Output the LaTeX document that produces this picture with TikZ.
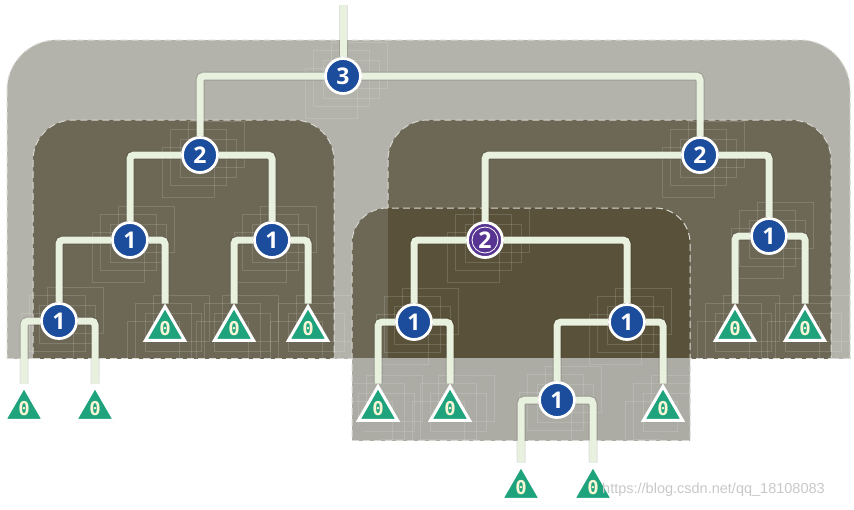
\documentclass[tikz,border=0pt]{standalone}
\usepackage{fontspec}
\setmainfont{Open Sans}
\newfontfamily\zerofont{DejaVu Sans Mono}
\newfontfamily\urlfont{Liberation Sans}
\usetikzlibrary{shapes.geometric,shadows}
\definecolor{outerc}{RGB}{179,179,171}
\definecolor{darkc}{RGB}{109,104,86}
\definecolor{overc}{RGB}{89,81,57}
\definecolor{midlow}{RGB}{172,172,165}
\definecolor{dashc}{RGB}{216,216,210}
\definecolor{wirec}{RGB}{232,240,222}
\definecolor{nblue}{RGB}{28,76,156}
\definecolor{npurple}{RGB}{88,52,146}
\definecolor{tgreen}{RGB}{30,163,125}
\definecolor{zeroc}{RGB}{252,246,214}
\definecolor{urlc}{RGB}{200,200,200}
\pgfdeclarelayer{regions}
\pgfdeclarelayer{wires}
\pgfsetlayers{regions,wires,main}
\newcommand\tracesat[2]{%
  \begin{scope}[shift={(#1,#2)}]
    \draw[trace] (-30,-26) rectangle (26,30);
    \draw[trace] (-20,-16) rectangle (36,22);
    \draw[trace] (-38,-8) rectangle (14,42);
    \draw[trace] (-12,-34) rectangle (44,12);
  \end{scope}}
\begin{document}
\begin{tikzpicture}[x=1pt,y=-1pt,
  wire/.style={draw=wirec, line width=7pt, rounded corners=4pt},
  wshadow/.style={draw=black, opacity=0.12, line width=9pt, rounded corners=4pt},
  num/.style={circle, fill=nblue, draw=white, line width=2.8pt, minimum size=35pt,
    inner sep=0pt, text=white, font=\bfseries\fontsize{23}{23}\selectfont,
    drop shadow={opacity=0.35, shadow xshift=0.6pt, shadow yshift=-1.4pt}},
  pnum/.style={num, fill=npurple},
  leaf/.style={regular polygon, regular polygon sides=3, minimum size=45pt,
    inner sep=0pt, fill=tgreen, draw=white, line width=3pt, text=zeroc,
    font=\zerofont\bfseries\fontsize{19}{19}\selectfont,
    drop shadow={opacity=0.4, shadow xshift=0.6pt, shadow yshift=-1.8pt}},
  dashline/.style={draw=dashc, line width=1pt, dash pattern=on 7pt off 4pt},
  trace/.style={draw=white, opacity=0.14, line width=0.6pt}]
\useasboundingbox (0,0) rectangle (854,509);

% ---------------- regions ----------------
\begin{pgfonlayer}{regions}
  % outer region
  \begin{scope}
    \clip (0,0) rectangle (854,358);
    \fill[outerc, rounded corners=50pt] (7,40) rectangle (850,420);
    \draw[dashline, rounded corners=50pt] (7,40) rectangle (850,420);
  \end{scope}
  \draw[dashline] (7,358) -- (850,358);
  % left dark region
  \begin{scope}
    \clip (0,0) rectangle (854,358);
    \fill[darkc, rounded corners=40pt] (33,120) rectangle (334,420);
    \draw[dashline, rounded corners=40pt] (33,120) rectangle (334,420);
  \end{scope}
  \draw[dashline] (33,358) -- (334,358);
  % right dark region
  \begin{scope}
    \clip (0,0) rectangle (854,358);
    \fill[darkc, rounded corners=40pt] (388,120) rectangle (831,420);
    \draw[dashline, rounded corners=40pt] (388,120) rectangle (831,420);
  \end{scope}
  \draw[dashline] (388,358) -- (831,358);
  % traces
  \begin{scope}
    \clip (0,0) rectangle (854,358);
    \tracesat{343}{76}
    \tracesat{200}{155}
    \tracesat{700}{155}
    \tracesat{130}{240}
    \tracesat{272}{240}
    \tracesat{59}{321}
    \tracesat{769}{236}
    \tracesat{735}{329}
    \tracesat{805}{329}
    \tracesat{165}{329}
    \tracesat{234}{329}
    \tracesat{308}{329}
  \end{scope}
  % middle region
  \begin{scope}
    \clip (0,0) rectangle (854,440);
    \fill[midlow, rounded corners=35pt] (352,208) rectangle (690,500);
    \begin{scope}
      \clip[rounded corners=35pt] (352,208) rectangle (690,500);
      \fill[darkc] (352,200) rectangle (690,358);
      \fill[overc] (388,200) rectangle (690,358);
    \end{scope}
    \draw[dashline, rounded corners=35pt] (352,208) rectangle (690,500);
  \end{scope}
  \draw[dashline] (352,440) -- (690,440);
  \begin{scope}
    \clip[rounded corners=35pt] (352,208) rectangle (690,440);
    \tracesat{485}{240}
    \tracesat{414}{322}
    \tracesat{627}{322}
    \tracesat{557}{400}
    \tracesat{378}{409}
    \tracesat{450}{409}
    \tracesat{663}{409}
  \end{scope}
\end{pgfonlayer}

% ---------------- nodes ----------------
\coordinate (top) at (343,5);
\node[num] (n3) at (343,76) {3};
\node[num] (n2a) at (200,155) {2};
\node[num] (n2b) at (700,155) {2};
\node[num] (n1a) at (130,240) {1};
\node[num] (n1b) at (272,240) {1};
\node[num] (n1c) at (59,321) {1};
\node[leaf] (l1) at (165,329) {0};
\node[leaf] (l2) at (234,329) {0};
\node[leaf] (l3) at (308,329) {0};
\node[leaf] (l4) at (24,409) {0};
\node[leaf] (l5) at (95,409) {0};
\node[pnum] (np) at (485,240) {2};
\draw[white, line width=0.8pt] (np.center) circle (13pt);
\node[num] (n1d) at (414,322) {1};
\node[num] (n1e) at (627,322) {1};
\node[num] (n1f) at (769,236) {1};
\node[leaf] (l6) at (735,329) {0};
\node[leaf] (l7) at (805,329) {0};
\node[num] (n1g) at (557,400) {1};
\node[leaf] (l8) at (378,409) {0};
\node[leaf] (l9) at (450,409) {0};
\node[leaf] (l10) at (663,409) {0};
\node[leaf] (l11) at (521,488) {0};
\node[leaf] (l12) at (593,488) {0};
\node[anchor=west, text=urlc, inner sep=0pt,
  font=\urlfont\fontsize{14.5}{14.5}\selectfont] (wm) at (602,490)
  {https://blog.csdn.net/qq\_18108083};

% ---------------- wires ----------------
\begin{pgfonlayer}{wires}
  \foreach \st in {wshadow, wire}{
    \draw[\st] (top) -- (n3);
    \draw[\st] (n3) -| (n2a);
    \draw[\st] (n3) -| (n2b);
    \draw[\st] (n2a) -| (n1a);
    \draw[\st] (n2a) -| (n1b);
    \draw[\st] (n1a) -| (n1c);
    \draw[\st] (n1a) -| (l1.corner 1);
    \draw[\st] (n1b) -| (l2.corner 1);
    \draw[\st] (n1b) -| (l3.corner 1);
    \draw[\st] (n1c) -| (l4.corner 1);
    \draw[\st] (n1c) -| (l5.corner 1);
    \draw[\st] (n2b) -| (np);
    \draw[\st] (n2b) -| (n1f);
    \draw[\st] (n1f) -| (l6.corner 1);
    \draw[\st] (n1f) -| (l7.corner 1);
    \draw[\st] (np) -| (n1d);
    \draw[\st] (np) -| (n1e);
    \draw[\st] (n1d) -| (l8.corner 1);
    \draw[\st] (n1d) -| (l9.corner 1);
    \draw[\st] (n1e) -| (n1g);
    \draw[\st] (n1e) -| (l10.corner 1);
    \draw[\st] (n1g) -| (l11.corner 1);
    \draw[\st] (n1g) -| (l12.corner 1);
  }
\end{pgfonlayer}
\end{tikzpicture}
\end{document}
